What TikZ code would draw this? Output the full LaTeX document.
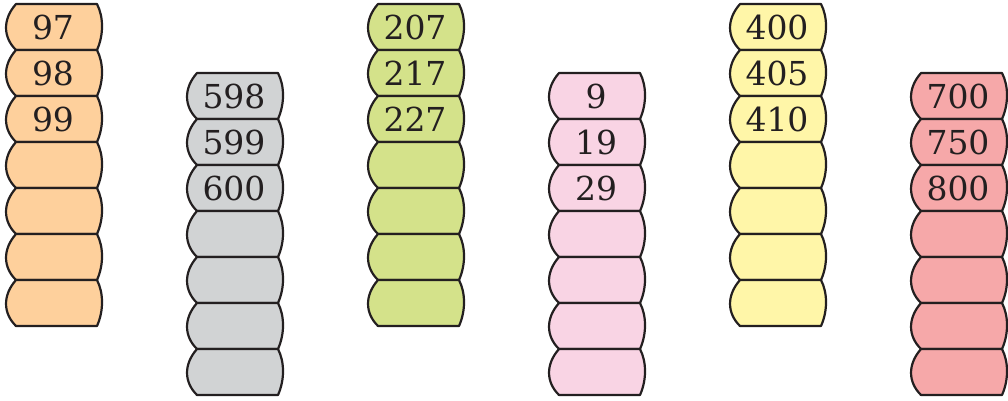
\documentclass[tikz,border=0pt]{standalone}
\usepackage{fontspec}
\newfontfamily\numfont{DejaVu Serif}
\definecolor{cOrange}{RGB}{254,208,156}
\definecolor{cGray}{RGB}{209,211,212}
\definecolor{cGreen}{RGB}{212,226,138}
\definecolor{cPink}{RGB}{249,212,228}
\definecolor{cYellow}{RGB}{255,246,168}
\definecolor{cRed}{RGB}{246,168,169}
\definecolor{cLine}{RGB}{35,31,32}
\tikzset{
  cellshape/.style={draw=cLine, line width=2.2pt, line join=round},
  numlabel/.style={inner sep=0pt, font=\numfont\fontsize{33}{36}\selectfont, text=cLine}
}
\begin{document}
\begin{tikzpicture}[x=1pt,y=-1pt]
\useasboundingbox (0,0) rectangle (1008,400);
\foreach \xo/\yo/\col/\a/\b/\c [count=\k] in {
  6/4/cOrange/97/98/99,
  187/73/cGray/598/599/600,
  368/4/cGreen/207/217/227,
  549/73/cPink/9/19/29,
  730/4/cYellow/400/405/410,
  911/73/cRed/700/750/800}{
  \foreach \i in {0,...,6}{
    \pgfmathsetmacro{\ya}{\yo+46*\i}
    \pgfmathsetmacro{\yb}{\ya+46}
    \path[cellshape, fill=\col]
      (\xo+10,\ya) -- (\xo+91,\ya)
      .. controls (\xo+97.7,\ya+13) and (\xo+97.7,\ya+31) .. (\xo+91,\yb)
      -- (\xo+10,\yb)
      .. controls (\xo-3.3,\ya+33) and (\xo-3.3,\ya+15) .. (\xo+10,\ya) -- cycle;
  }
  \node[numlabel] (n\k a) at (\xo+47,\yo+23.5) {\a};
  \node[numlabel] (n\k b) at (\xo+47,\yo+69.5) {\b};
  \node[numlabel] (n\k c) at (\xo+47,\yo+115.5) {\c};
}
\end{tikzpicture}
\end{document}
